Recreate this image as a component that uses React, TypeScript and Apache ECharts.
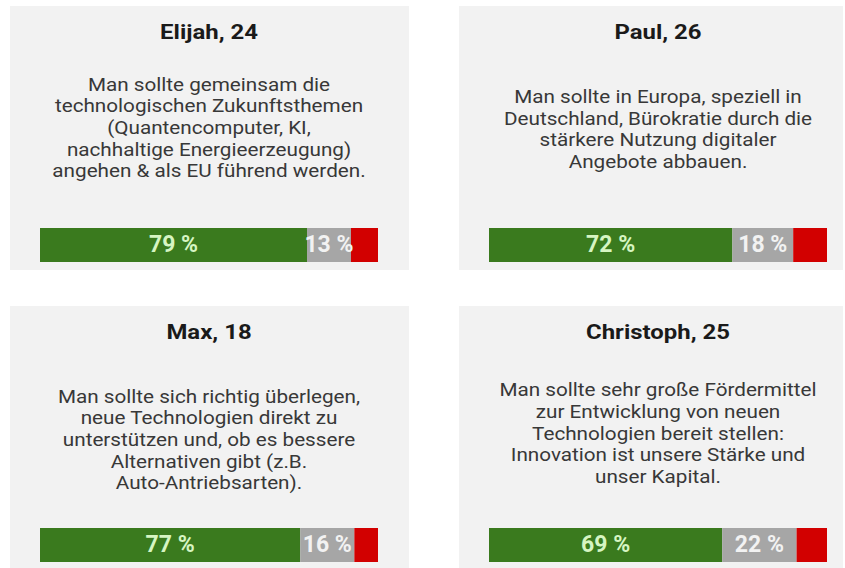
import React, { useEffect, useRef } from "react";
import * as echarts from "echarts";

const names = ["Elijah, 24", "Paul, 26", "Max, 18", "Christoph, 25"];
const statements = [
  "Man sollte gemeinsam die\ntechnologischen Zukunftsthemen\n(Quantencomputer, KI,\nnachhaltige Energieerzeugung)\nangehen & als EU führend werden.",
  "Man sollte in Europa, speziell in\nDeutschland, Bürokratie durch die\nstärkere Nutzung digitaler\nAngebote abbauen.",
  "Man sollte sich richtig überlegen,\nneue Technologien direkt zu\nunterstützen und, ob es bessere\nAlternativen gibt (z.B.\nAuto-Antriebsarten).",
  "Man sollte sehr große Fördermittel\nzur Entwicklung von neuen\nTechnologien bereit stellen:\nInnovation ist unsere Stärke und\nunser Kapital.",
];
const agree = [79, 72, 77, 69];
const neutral = [13, 18, 16, 22];
const disagree = [8, 10, 7, 9];

const GREEN = "#3a7a1e";
const GRAY = "#a6a6a6";
const RED = "#d20000";

const panels = [
  { x: 10, y: 6, w: 399, h: 264, textY: 128 },
  { x: 459, y: 6, w: 384, h: 264, textY: 129.5 },
  { x: 10, y: 306, w: 399, h: 262, textY: 440 },
  { x: 459, y: 306, w: 384, h: 262, textY: 433.5 },
];

export default function App() {
  const ref = useRef<HTMLDivElement>(null);
  useEffect(() => {
    document.body.style.margin = "0";
    if (!ref.current) return;
    const chart = echarts.init(ref.current, undefined, { renderer: "svg" });
    const grids: any[] = [];
    const xAxes: any[] = [];
    const yAxes: any[] = [];
    const series: any[] = [];
    const graphics: any[] = [];
    panels.forEach((p, i) => {
      graphics.push({
        type: "rect",
        z: -10,
        shape: { x: p.x, y: p.y, width: p.w, height: p.h },
        style: { fill: "#f2f2f2" },
      });
      const cx = p.x + 30 + 169;
      graphics.push({
        type: "text",
        x: cx,
        y: p.y + 26,
        scaleX: 1.14,
        style: {
          text: names[i],
          font: "bold 21px Roboto, sans-serif",
          fill: "#1a1a1a",
          align: "center",
          verticalAlign: "middle",
        },
      });
      graphics.push({
        type: "text",
        x: cx,
        y: p.textY,
        scaleX: 1.15,
        style: {
          text: statements[i],
          font: "18px Roboto, sans-serif",
          lineHeight: 21.7,
          fill: "#383838",
          align: "center",
          verticalAlign: "middle",
        },
      });
      grids.push({ left: p.x + 30, top: p.y + 222, width: 338, height: 34 });
      xAxes.push({ type: "value", gridIndex: i, min: 0, max: 100, show: false });
      yAxes.push({ type: "category", gridIndex: i, data: [""], show: false });
      const lbl = (color: string) => ({
        show: true,
        position: "inside",
        formatter: (d: any) => d.value + " %",
        color,
        fontFamily: "Roboto, sans-serif",
        fontWeight: "bold",
        fontSize: 23,
        offset: [0, -1],
      });
      series.push(
        {
          type: "bar",
          xAxisIndex: i,
          yAxisIndex: i,
          stack: "s" + i,
          barWidth: "100%",
          data: [agree[i]],
          itemStyle: { color: GREEN },
          label: lbl("#d6f5c2"),
          silent: true,
        },
        {
          type: "bar",
          xAxisIndex: i,
          yAxisIndex: i,
          stack: "s" + i,
          barWidth: "100%",
          data: [neutral[i]],
          itemStyle: { color: GRAY },
          label: lbl("#f2f2f2"),
          silent: true,
        },
        {
          type: "bar",
          xAxisIndex: i,
          yAxisIndex: i,
          stack: "s" + i,
          barWidth: "100%",
          data: [disagree[i]],
          itemStyle: { color: RED },
          label: { show: false },
          silent: true,
        }
      );
    });
    chart.setOption({
      animation: false,
      backgroundColor: "#ffffff",
      grid: grids,
      xAxis: xAxes,
      yAxis: yAxes,
      series,
      graphic: graphics,
    });
    return () => chart.dispose();
  }, []);
  return <div ref={ref} style={{ width: 845, height: 568 }} />;
}
